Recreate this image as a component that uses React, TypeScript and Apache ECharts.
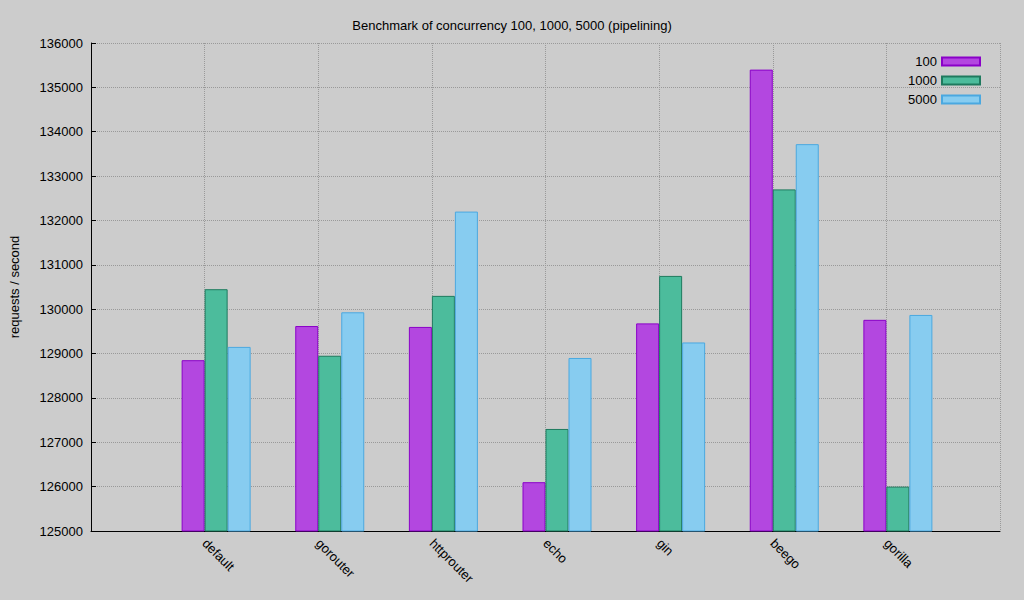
import { useEffect, useRef } from 'react';
import * as echarts from 'echarts';

const categories = ['', 'default', 'gorouter', 'httprouter', 'echo', 'gin', 'beego', 'gorilla', ''];
const c100 = [null, 128850, 129620, 129600, 126100, 129680, 135400, 129760, null];
const c1000 = [null, 130450, 128950, 130300, 127300, 130750, 132700, 126000, null];
const c5000 = [null, 129150, 129930, 132200, 128900, 129250, 133720, 129870, null];
const spacer = categories.map(() => null);

const font = 'Liberation Sans, Arial, sans-serif';

export default function App() {
  const chartRef = useRef<HTMLDivElement>(null);

  useEffect(() => {
    if (!chartRef.current) return;
    document.body.style.margin = '0';
    const chart = echarts.init(chartRef.current, undefined, { renderer: 'svg' });

    const bar = (name: string, data: (number | null)[], color: string, border: string) => ({
      name,
      type: 'bar' as const,
      data,
      barWidth: 23,
      barGap: '0%',
      itemStyle: { color, borderColor: border, borderWidth: 1 },
    });

    chart.setOption({
      animation: false,
      backgroundColor: '#cccccc',
      textStyle: { fontFamily: font },
      title: {
        text: 'Benchmark of concurrency 100, 1000, 5000 (pipelining)',
        left: 'center',
        top: 14,
        textStyle: { fontSize: 13, fontWeight: 'normal', color: '#000', fontFamily: font },
      },
      legend: {
        data: ['100', '1000', '5000'],
        orient: 'vertical',
        right: 38,
        top: 50,
        align: 'right',
        itemWidth: 38,
        itemHeight: 8,
        itemGap: 6,
        icon: 'rect',
        textStyle: { fontSize: 13, color: '#000', fontFamily: font },
      },
      grid: { left: 88, right: 24, top: 43, bottom: 69 },
      xAxis: {
        type: 'category',
        data: categories,
        boundaryGap: false,
        axisLine: { lineStyle: { color: '#000' } },
        axisTick: { show: false },
        axisLabel: { rotate: -45, color: '#000', fontSize: 13, margin: 10, interval: 0 },
        splitLine: { show: true, lineStyle: { color: '#999', type: 'dotted' } },
      },
      yAxis: {
        type: 'value',
        min: 125000,
        max: 136000,
        interval: 1000,
        name: 'requests / second',
        nameLocation: 'middle',
        nameGap: 70,
        nameTextStyle: { color: '#000', fontSize: 13 },
        axisLine: { show: true, lineStyle: { color: '#000' } },
        axisTick: { show: true, inside: true, lineStyle: { color: '#000' } },
        axisLabel: { color: '#000', fontSize: 13, formatter: (v: number) => String(v) },
        splitLine: { show: true, lineStyle: { color: '#999', type: 'dotted' } },
      },
      series: [
        bar('spacer', spacer, 'transparent', 'transparent'),
        bar('100', c100, '#b347e0', '#8a00c8'),
        bar('1000', c1000, '#4cbc9c', '#1e7a5e'),
        bar('5000', c5000, '#87ccf0', '#4aa8e0'),
      ],
    });

    return () => chart.dispose();
  }, []);

  return <div ref={chartRef} style={{ width: 1024, height: 600 }} />;
}
